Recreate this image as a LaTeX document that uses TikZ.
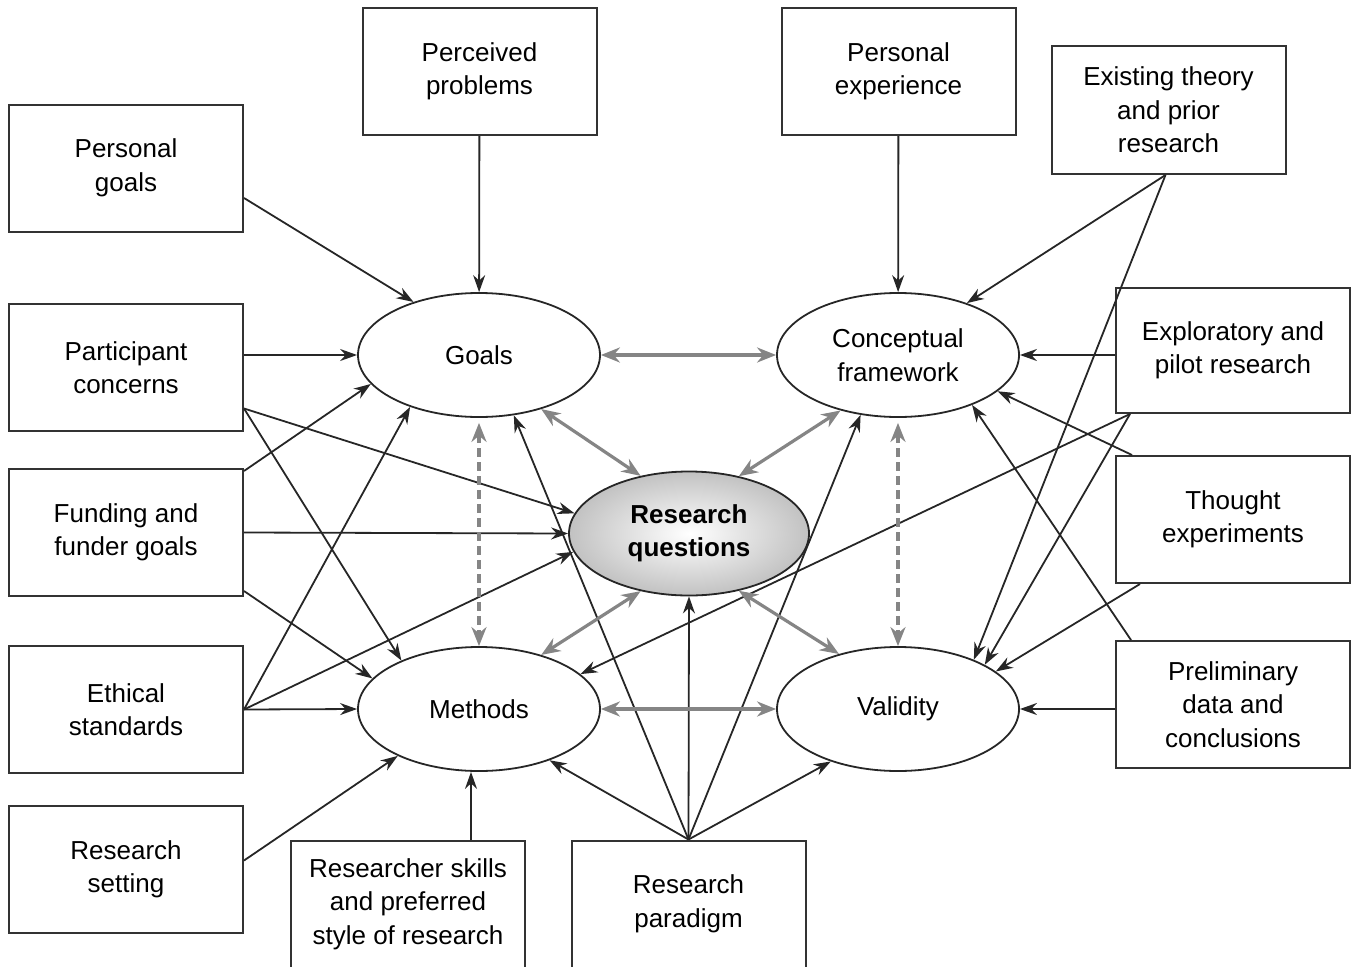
\documentclass[tikz,border=0pt]{standalone}
\usepackage{fontspec}
\setmainfont{Liberation Sans}
\usetikzlibrary{shapes.geometric,arrows.meta}

\begin{document}
\begin{tikzpicture}[x=1pt,y=-1pt,
      font=\fontsize{26}{33.5}\selectfont,
      box/.style ={draw=black!80,line width=2pt,minimum width=234pt,minimum height=127pt,align=center,inner sep=0pt},
      oval/.style ={ellipse,draw=black!85,line width=1.8pt,minimum width=242pt,minimum height=124pt,align=center,inner sep=0pt},
      feed/.style ={-{Stealth[length=17pt,width=12pt]},line width=1.8pt,black!85},
      link/.style ={{Stealth[length=19pt,width=15pt]}-{Stealth[length=19pt,width=15pt]},line width=3.2pt,black!48},
      loose/.style ={link,dash pattern=on 9pt off 5pt}]
    \useasboundingbox (0,0) rectangle (1351,966);
    \node[box] (pgoals) at (126,168) {Personal\\goals};
    \node[box] (partic) at (126,367.5) {Participant\\concerns};
    \node[box] (funding) at (126,532.5) {Funding and\\funder goals};
    \node[box] (ethics) at (126,709.5) {Ethical\\standards};
    \node[box] (setting) at (126,869.5) {Research\\setting};
    \node[box] (percv) at (479.5,71.5) {Perceived\\problems};
    \node[box] (pexp) at (898.5,71.5) {Personal\\experience};
    \node[box,minimum height=128pt] (theory) at (1168.5,110) {Existing theory\\and prior\\research};
    \node[box,minimum height=125pt] (explor) at (1233,350.5) {Exploratory and\\pilot research};
    \node[box] (thought) at (1233,519.5) {Thought\\experiments};
    \node[box] (prelim) at (1233,704.5) {Preliminary\\data and\\conclusions};
    \node[box] (skills) at (408,904) {Researcher skills\\and preferred\\style of research};
    \node[box] (paradigm) at (688.5,904) {Research\\paradigm};
    \node[oval] (goals) at (479,355) {Goals};
    \node[oval] (concept) at (898,355) {Conceptual\\framework};
    \node[oval] (methods) at (479,709) {Methods};
    \node[oval] (validity) at (898,709) {Validity};
    \node[oval,minimum width=240pt,inner color=white,outer color=black!24,font=\fontsize{26}{33.5}\selectfont\bfseries] (rq) at (689,533.5) {Research\\questions};
    \draw[feed] ([yshift=-30pt]pgoals.east) -- (goals.141);
    \draw[feed] (percv) -- (goals);
    \draw[feed] (pexp) -- (concept);
    \draw[feed] ([yshift=12.5pt]partic.east) -- (goals.180);
    \draw[feed] ([yshift=-41pt]partic.east) -- (rq.170);
    \draw[feed] ([yshift=-41pt]partic.east) -- (methods.148);
    \draw[feed] ([yshift=-3pt]funding.north east) -- (goals.195);
    \draw[feed] (funding.east) -- (rq.180);
    \draw[feed] ([yshift=6pt]funding.south east) -- (methods.164);
    \draw[feed] (ethics.east) -- (goals.217);
    \draw[feed] (ethics.east) -- (rq.189);
    \draw[feed] (ethics.east) -- (methods.180);
    \draw[feed] ([yshift=9pt]setting.east) -- (methods.210);
    \draw[feed] ([xshift=63pt]skills.north) -- ([xshift=63pt]skills.north |- methods.south);
    \draw[feed] (paradigm.north) -- (goals.300);
    \draw[feed] (paradigm.north) -- (methods.324);
    \draw[feed] (paradigm.north) -- (rq.270);
    \draw[feed] (paradigm.north) -- (concept.238);
    \draw[feed] (paradigm.north) -- (validity.218);
    \draw[feed] ([xshift=-3pt]theory.south) -- (concept.37);
    \draw[feed] ([xshift=-3pt]theory.south) -- (validity.33);
    \draw[feed] ([yshift=-4.5pt]explor.west) -- (concept.0);
    \draw[feed] ([xshift=15pt]explor.south west) -- (methods.19);
    \draw[feed] ([xshift=15pt]explor.south west) -- (validity.27);
    \draw[feed] ([xshift=17pt]thought.north west) -- (concept.-20);
    \draw[feed] ([xshift=25pt]thought.south west) -- (validity.21);
    \draw[feed] ([xshift=16pt]prelim.north west) -- (concept.-34);
    \draw[feed] ([yshift=-4.5pt]prelim.west) -- (validity.0);
    \draw[link] (goals.0) -- (concept.180);
    \draw[link] (methods.0) -- (validity.180);
    \draw[link] (goals.319) -- (rq.130);
    \draw[link] (concept.224) -- (rq.49);
    \draw[link] (methods.41) -- (rq.230);
    \draw[link] (validity.137) -- (rq.311);
    \draw[loose] ([yshift=-5pt]goals.270) -- (methods.90);
    \draw[loose] ([yshift=-5pt]concept.270) -- (validity.90);
    \end{tikzpicture}
\end{document}
